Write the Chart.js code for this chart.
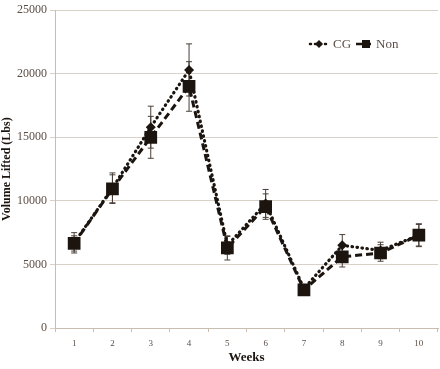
<!DOCTYPE html>
<html>
<head>
<meta charset="utf-8">
<script src="https://cdn.jsdelivr.net/npm/chart.js@4"></script>
<style>
  html,body{margin:0;padding:0;background:#fff;}
  #wrap{width:440px;height:369px;}
</style>
</head>
<body>
<div id="wrap"><canvas id="c" width="440" height="369"></canvas></div>
<script>
/* volume lifted per week, CG vs Non, with error bars */
const WEEKS = ["1","2","3","4","5","6","7","8","9","10"];
const CG_VALUES  = [6700, 11000, 15800, 20300, 6500, 9800, 3100, 6500, 6100, 7300];
const CG_ERR     = [ 800,  1200,  1650,  2050,  700, 1100,  300,  850,  650,  850];
const NON_VALUES = [6650, 10950, 15000, 19000, 6300, 9550, 3000, 5600, 5900, 7300];
const NON_ERR    = [ 600,  1100,  1650,  1950,  950, 1000,  300,  800,  650,  900];
const Y_TICKS = [0, 5000, 10000, 15000, 20000, 25000];

const INK = "#1b140f", GRID = "#d9d0c7", TXT = "#5b4e45";
const SERIF = "'Liberation Serif', 'DejaVu Serif', serif";

// error bars drawn through the scales
const errorBars = {
  id:"errorBars",
  beforeDatasetsDraw(chart){
    const ctx=chart.ctx, x=chart.scales.x, y=chart.scales.y;
    const sets=[[CG_VALUES,CG_ERR],[NON_VALUES,NON_ERR]];
    ctx.save(); ctx.strokeStyle="#4a3f38"; ctx.lineWidth=1;
    sets.forEach(([vals,errs])=>{
      vals.forEach((v,i)=>{
        const px=x.getPixelForValue(i), top=y.getPixelForValue(v+errs[i]), bot=y.getPixelForValue(v-errs[i]);
        ctx.beginPath();
        ctx.moveTo(px,top); ctx.lineTo(px,bot);
        ctx.moveTo(px-3,top); ctx.lineTo(px+3,top);
        ctx.moveTo(px-3,bot); ctx.lineTo(px+3,bot);
        ctx.stroke();
      });
    });
    ctx.restore();
  }
};

// legend: line sample + marker + label, inside plot
const legendBox = {
  id:"legendBox",
  afterDraw(chart){
    const ctx=chart.ctx, yy=44;
    ctx.save(); ctx.strokeStyle=INK; ctx.fillStyle=INK; ctx.lineWidth=2.5;
    ctx.setLineDash([1,4]); ctx.lineCap="round";
    ctx.beginPath(); ctx.moveTo(310,yy); ctx.lineTo(328,yy); ctx.stroke();
    ctx.setLineDash([]);
    ctx.beginPath(); ctx.moveTo(319,yy-4); ctx.lineTo(323,yy); ctx.lineTo(319,yy+4); ctx.lineTo(315,yy); ctx.closePath(); ctx.fill();
    ctx.lineCap="butt"; ctx.setLineDash([6,3]);
    ctx.beginPath(); ctx.moveTo(356,yy); ctx.lineTo(374,yy); ctx.stroke();
    ctx.setLineDash([]);
    ctx.fillRect(362,yy-4,8,8);
    ctx.fillStyle=TXT; ctx.font="13px "+SERIF; ctx.textBaseline="middle";
    ctx.fillText("CG",333,yy+1);
    ctx.fillText("Non",376,yy+1);
    ctx.restore();
  }
};

new Chart(document.getElementById("c"),{
  type:"line",
  data:{labels:WEEKS,datasets:[
    {label:"CG",data:CG_VALUES,order:2,borderColor:INK,backgroundColor:INK,borderWidth:3.2,
     borderDash:[0.5,4.5],borderCapStyle:"round",pointStyle:"rectRot",pointRadius:5,pointBorderWidth:0,tension:0},
    {label:"Non",data:NON_VALUES,order:1,borderColor:INK,backgroundColor:INK,borderWidth:3,
     borderDash:[7,4],pointStyle:"rect",pointRadius:9,pointBorderWidth:0,tension:0}
  ]},
  options:{
    responsive:false,animation:false,
    layout:{autoPadding:false,padding:{top:10,right:2,left:0,bottom:0}},
    plugins:{legend:{display:false},tooltip:{enabled:false}},
    scales:{
      x:{offset:true,
        grid:{display:true,drawOnChartArea:false,offset:true,color:"#c9bdb2",tickLength:4},
        border:{color:"#c9bdb2"},
        ticks:{color:TXT,font:{family:SERIF,size:9},padding:6,maxRotation:0},
        title:{display:true,text:"Weeks",color:INK,font:{family:SERIF,size:13,weight:"bold"},padding:{top:2}},
        afterFit(s){s.height=41; s.paddingLeft=0; s.paddingRight=0;}
      },
      y:{min:0,max:25000,
        afterBuildTicks(s){s.ticks=Y_TICKS.map(v=>({value:v}));},
        grid:{color:GRID,tickLength:5},
        border:{color:"#c9bdb2"},
        ticks:{color:TXT,font:{family:SERIF,size:12},padding:3,callback:v=>String(v)},
        title:{display:true,text:"Volume Lifted (Lbs)",color:INK,font:{family:SERIF,size:12,weight:"bold"},padding:{top:0,bottom:0}},
        afterFit(s){s.width=55;}
      }
    }
  },
  plugins:[errorBars,legendBox]
});
</script>
</body>
</html>
